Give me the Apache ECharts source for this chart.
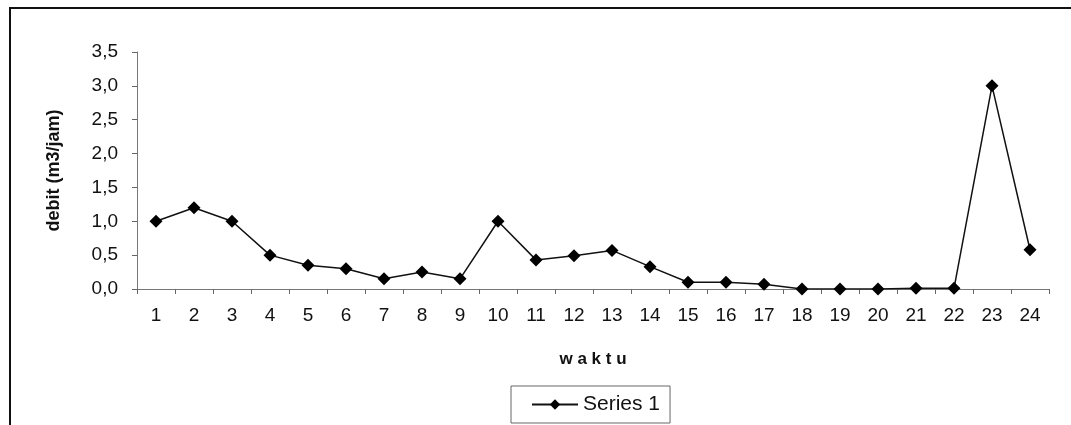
<!DOCTYPE html>
<html><head><meta charset="utf-8">
<script src="https://cdn.jsdelivr.net/npm/echarts@6/dist/echarts.min.js"></script>
<style>html,body{margin:0;padding:0;background:#fff}#c{width:1071px;height:425px}</style>
</head><body><div id="c"></div>
<script>
const categories = ['1','2','3','4','5','6','7','8','9','10','11','12','13','14','15','16','17','18','19','20','21','22','23','24'];
const debit = [1.0,1.2,1.0,0.5,0.35,0.3,0.15,0.25,0.15,1.0,0.43,0.49,0.57,0.33,0.1,0.1,0.07,0,0,0,0.01,0.01,3.0,0.58];
const seriesName = 'Series 1';
const xTitle = 'w a k t u';
const yTitle = 'debit (m3/jam)';

const chart = echarts.init(document.getElementById('c'));
const font = 'Liberation Sans, Arial, sans-serif';
chart.setOption({
  animation: false,
  backgroundColor: '#fff',
  grid: {left: 137, right: 22, top: 52, bottom: 136},
  graphic: [{
    type: 'polyline',
    shape: {points: [[10, 425], [10, 8], [1071, 8]]},
    style: {stroke: '#111', lineWidth: 2, fill: null}
  }],
  xAxis: {
    type: 'category', data: categories, boundaryGap: true,
    name: xTitle, nameLocation: 'middle', nameGap: 62,
    nameTextStyle: {fontFamily: font, fontSize: 17, fontWeight: 'bold', color: '#111'},
    axisLine: {lineStyle: {color: '#777', width: 1}},
    axisTick: {show: true, length: 5, lineStyle: {color: '#666'}},
    axisLabel: {fontFamily: font, fontSize: 19, color: '#111', margin: 17}
  },
  yAxis: {
    type: 'value', min: 0, max: 3.5, interval: 0.5,
    name: yTitle, nameLocation: 'middle', nameGap: 74,
    nameTextStyle: {fontFamily: font, fontSize: 18, fontWeight: 'bold', color: '#111'},
    splitLine: {show: false},
    axisLine: {show: true, lineStyle: {color: '#777', width: 1}},
    axisTick: {show: true, length: 5, lineStyle: {color: '#666'}},
    axisLabel: {fontFamily: font, fontSize: 19, color: '#111', margin: 19,
      formatter: v => v.toFixed(1).replace('.', ',')}
  },
  legend: {
    show: true, bottom: 2, left: 511,
    data: [seriesName],
    itemWidth: 46, itemHeight: 13, itemGap: 10,
    padding: [8, 10, 8, 20],
    borderColor: '#666', borderWidth: 1,
    textStyle: {fontFamily: font, fontSize: 21, color: '#111'}
  },
  series: [{
    name: seriesName, type: 'line', data: debit,
    symbol: 'diamond', symbolSize: 13,
    lineStyle: {color: '#111', width: 1.5},
    itemStyle: {color: '#000'}
  }]
});
</script></body></html>
